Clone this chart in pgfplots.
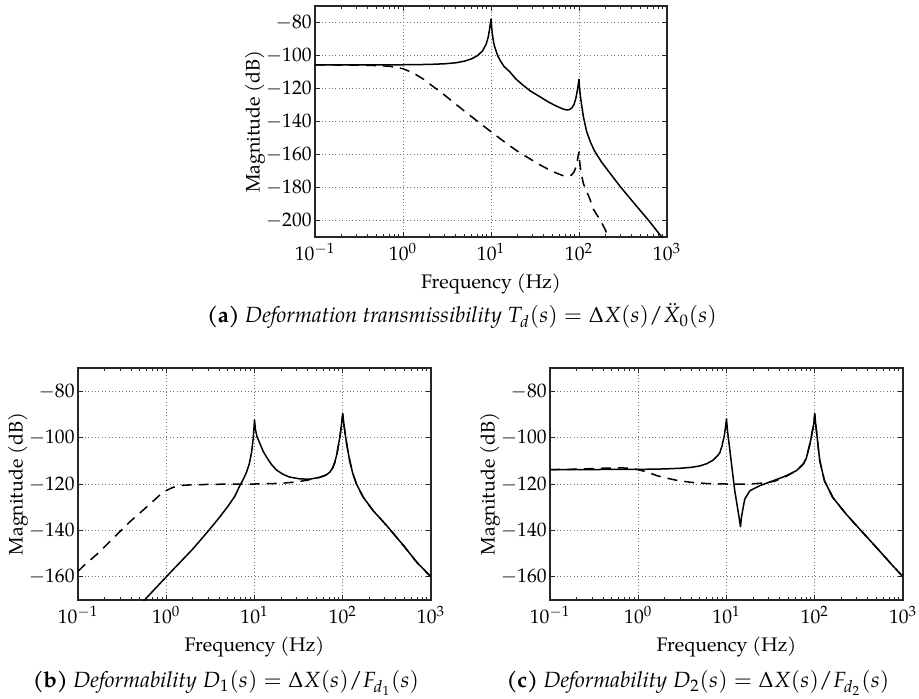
\documentclass[border=0pt]{standalone}
\usepackage{mathpazo}
\usepackage{fontspec}
\setmainfont{TeX Gyre Pagella}
\usepackage{pgfplots}
\pgfplotsset{compat=1.18}
\pgfplotsset{
  every axis/.append style={
    scale only axis,
    xmode=log, xmin=0.1, xmax=1000,
    xtick={0.1,1,10,100,1000},
    grid=major,
    major grid style={line width=0.4pt, black!55, dash pattern=on 0.5pt off 1.2pt},
    axis line style={line width=0.9pt, black!85},
    every tick/.style={black!85, line width=0.5pt},
    major tick length=2.5pt, minor tick length=1.5pt,
    tick align=inside,
    xlabel={Frequency (Hz)}, ylabel={Magnitude (dB)},
    yticklabel style={inner xsep=1.5pt},
    xticklabel style={inner ysep=3pt},
    every axis y label/.style={at={(axis description cs:-0.17,0.5)}, rotate=90, anchor=center},
  },
}
\tikzset{sl/.style={black, line width=0.75pt, mark=none, line join=round},
         dsh/.style={sl, dash pattern=on 5pt off 3.5pt},
         subcaptext/.style={font=\fontsize{11}{13}\selectfont}}
\begin{document}
\fontsize{9.8}{11.8}\selectfont
\begin{tikzpicture}
\useasboundingbox (0,0) rectangle (459.5pt,-349pt);
% (a)
\begin{axis}[at={(157.5pt,-3pt)}, anchor=north west, width=176pt, height=115.5pt,
  ymin=-210, ymax=-70, ytick={-200,-180,-160,-140,-120,-100,-80}]
\addplot[sl] coordinates {(0.1,-105.7) (0.3,-105.7) (0.6,-105.7) (1,-105.6) (2,-105.4) (3,-105.0) (4,-104.4) (5,-103.4) (6,-102.0) (7,-100.2) (8,-97.2) (8.8,-93.2) (9.3,-88.8) (9.6,-84.5) (9.85,-80.5) (10,-78) (10.3,-86) (10.7,-92) (11,-94.6) (11.8,-99.5) (12.6,-102.7) (14,-106.5) (16.3,-109.8) (19,-114) (23,-117.9) (28,-121.5) (36,-125) (45,-128.2) (55,-130.6) (65,-132.3) (72,-133) (78,-132.8) (83,-131.8) (88,-129.5) (92,-126) (95.5,-121.5) (98.5,-117) (100,-114.5) (101.5,-120) (104.5,-126) (112,-137) (122,-146) (135,-152.5) (150,-157.8) (180,-164.5) (230,-172) (300,-180) (430,-190) (620,-200) (870,-210) (950,-212)};
\addplot[dsh] coordinates {(0.1,-105.7) (0.3,-105.8) (0.5,-106.1) (0.7,-106.5) (1,-108) (1.3,-110.5) (1.7,-114.3) (2.2,-118.8) (3,-124.2) (4,-129.6) (5,-133.7) (6.8,-139.3) (10,-146.2) (15,-153.3) (21,-158.8) (28,-162.8) (36,-166.3) (45,-169) (55,-171.2) (65,-172.7) (75,-173.3) (82,-172.5) (88,-170.5) (93,-167) (97,-162) (100,-158.5) (102,-165) (106,-171.5) (112,-177.5) (118,-180.5) (133,-187) (145,-193) (174,-199.7) (200,-205.8) (215,-211)};
\end{axis}
\node[subcaptext] at (231pt,-158pt) {\textbf{(a)} \textit{Deformation transmissibility} $T_d(s) = \Delta X(s)/\ddot{X}_0(s)$};
% (b)
\begin{axis}[at={(39pt,-184pt)}, anchor=north west, width=176.5pt, height=116pt,
  ymin=-170, ymax=-70, ytick={-160,-140,-120,-100,-80}]
\addplot[sl] coordinates {(0.5,-172.2) (1,-160) (2,-148) (3,-140.2) (4,-134.4) (5,-129.6) (6,-125.2) (6.8,-120.8) (7.5,-117.8) (8.1,-115) (8.7,-111.5) (9.25,-106.5) (9.6,-101.5) (9.85,-96) (10,-92.4) (10.25,-96.5) (10.7,-99.8) (11.5,-102.5) (12.5,-105.8) (13.7,-108.4) (15.5,-111.5) (17.8,-114) (21,-115.8) (25,-117) (32.7,-117.8) (42.5,-117.9) (55,-117.1) (64,-116.2) (71,-115) (77,-113) (81,-110.8) (86,-107) (90,-102.5) (93,-99.5) (96,-95.5) (100,-89.8) (104,-95.5) (108,-100) (114,-105.5) (120,-110) (130,-115.5) (143,-120) (170,-125.6) (221,-131.5) (316,-138) (490,-146.6) (692,-153.8) (1000,-160)};
\addplot[dsh] coordinates {(0.1,-157.6) (0.117,-155.1) (0.166,-150.1) (0.247,-143.6) (0.384,-136.4) (0.58,-130.4) (0.86,-124.5) (1,-122.8) (1.2,-121.4) (1.5,-120.6) (2,-120.3) (4,-120.1) (10,-120) (20,-119.7) (30,-119.1) (40,-118.3) (48,-117.7) (55,-117.1) (64,-116.2) (71,-115) (77,-113) (81,-110.8) (86,-107) (90,-102.5) (93,-99.5) (96,-95.5) (100,-89.8) (104,-95.5) (108,-100) (114,-105.5) (120,-110) (130,-115.5) (143,-120) (170,-125.6) (221,-131.5) (316,-138) (490,-146.6) (692,-153.8) (1000,-160)};
\end{axis}
\node[subcaptext] at (113pt,-341.5pt) {\textbf{(b)} \textit{Deformability} $D_1(s) = \Delta X(s)/F_{d_1}(s)$};
% (c)
\begin{axis}[at={(275pt,-184pt)}, anchor=north west, width=176.5pt, height=116pt,
  ymin=-170, ymax=-70, ytick={-160,-140,-120,-100,-80}]
\addplot[sl] coordinates {(0.1,-113.8) (1,-113.7) (2,-113.5) (3,-113.2) (4,-112.8) (5,-112.2) (6,-111.2) (7,-109.8) (8,-107.6) (8.4,-106.5) (8.9,-103.5) (9.4,-99.5) (9.75,-95.5) (10,-91.9) (10.25,-97) (10.7,-102.7) (11.4,-111.4) (12.4,-122.9) (13.5,-131.5) (14.1,-136) (14.4,-138.4) (14.7,-135) (15.2,-131.5) (16.1,-126.5) (18.4,-122.9) (23.9,-120.7) (33.8,-118.6) (47.9,-116.4) (62.2,-114.2) (74.1,-111.4) (80,-109) (84.3,-105.6) (89,-102) (94.2,-97) (97.5,-94) (100,-89.8) (103,-95) (106.4,-99.9) (114,-110) (128.8,-118.6) (160,-125.8) (227,-133) (322,-139.4) (498,-147.3) (769,-155.3) (1000,-160)};
\addplot[dsh] coordinates {(0.1,-113.8) (0.2,-113.6) (0.4,-113.2) (0.6,-113) (0.8,-113.2) (1,-113.8) (1.3,-115) (1.6,-116.3) (2,-117.3) (2.8,-118.5) (4,-119.3) (6,-119.8) (10,-120) (18,-120) (26,-119.6) (35,-118.8) (47.9,-116.6) (62.2,-114.2) (74.1,-111.4) (80,-109) (84.3,-105.6) (89,-102) (94.2,-97) (97.5,-94) (100,-89.8) (103,-95) (106.4,-99.9) (114,-110) (128.8,-118.6) (160,-125.8) (227,-133) (322,-139.4) (498,-147.3) (769,-155.3) (1000,-160)};
\end{axis}
\node[subcaptext] at (349pt,-341.5pt) {\textbf{(c)} \textit{Deformability} $D_2(s) = \Delta X(s)/F_{d_2}(s)$};
\end{tikzpicture}
\end{document}
